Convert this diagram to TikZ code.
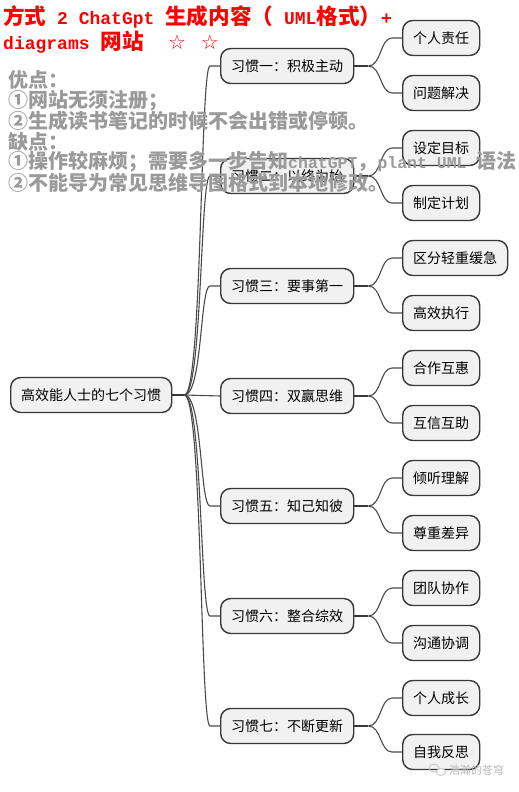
\documentclass[tikz,border=0pt]{standalone}
\usepackage{fontspec}
\newfontfamily\cjk{Noto Sans CJK SC}
\newfontfamily\monob{Liberation Mono}
\newfontfamily\symf{DejaVu Sans}
\usetikzlibrary{calc}
\definecolor{boxfill}{HTML}{F1F1F1}
\definecolor{boxline}{HTML}{383838}
\definecolor{linkcol}{HTML}{4A4A4A}
\definecolor{titlered}{HTML}{FF0000}
\definecolor{notegray}{HTML}{9A9A9A}
\newcommand{\tc}[1]{{\cjk\bfseries\fontsize{21.6}{21.6}\selectfont #1}}
\newcommand{\tm}[1]{{\monob\bfseries\fontsize{18}{18}\selectfont #1}}
\newcommand{\nm}[1]{{\monob\bfseries\fontsize{16.5}{16.5}\selectfont #1}}
\begin{document}
\begin{tikzpicture}[x=1pt,y=-1pt,
  mm/.style={draw=boxline, line width=1.4pt, fill=boxfill, rounded corners=10pt,
    font=\cjk\fontsize{14}{14}\selectfont, inner xsep=10.5pt, inner ysep=0pt,
    minimum height=35pt, anchor=west, text=black},
  stub/.style={draw=boxline, line width=2.2pt},
  link/.style={draw=linkcol, line width=1.1pt},
  titletext/.style={anchor=west, inner sep=0pt, text=titlered},
  notetext/.style={anchor=west, inner sep=0pt, text=notegray,
    font=\cjk\bfseries\fontsize{20}{20}\selectfont},
  wm/.style={anchor=west, inner sep=0pt, text=gray!55, font=\cjk\fontsize{11}{11}\selectfont}]
\useasboundingbox (0,0) rectangle (519,792);
\fill[white] (0,0) rectangle (519,792);

% root
\node[mm] (root) at (10,395) {高效能人士的七个习惯};
% level 1
\node[mm] (h1) at (220,66) {习惯一：积极主动};
\node[mm] (h2) at (220,176) {习惯二：以终为始};
\node[mm] (h3) at (220,286) {习惯三：要事第一};
\node[mm] (h4) at (220,396) {习惯四：双赢思维};
\node[mm] (h5) at (220,506) {习惯五：知己知彼};
\node[mm] (h6) at (220,616) {习惯六：整合综效};
\node[mm] (h7) at (220,726) {习惯七：不断更新};
% level 2
\node[mm] (l11) at (402,38) {个人责任};
\node[mm] (l12) at (402,93) {问题解决};
\node[mm] (l21) at (402,148) {设定目标};
\node[mm] (l22) at (402,203) {制定计划};
\node[mm] (l31) at (402,258) {区分轻重缓急};
\node[mm] (l32) at (402,313) {高效执行};
\node[mm] (l41) at (402,368) {合作互惠};
\node[mm] (l42) at (402,423) {互信互助};
\node[mm] (l51) at (402,478) {倾听理解};
\node[mm] (l52) at (402,533) {尊重差异};
\node[mm] (l61) at (402,588) {团队协作};
\node[mm] (l62) at (402,643) {沟通协调};
\node[mm] (l71) at (402,698) {个人成长};
\node[mm] (l72) at (402,752) {自我反思};

% connectors root -> level 1
\coordinate (rj) at ($(root.east)+(12,0)$);
\foreach \h in {h1,h2,h3,h5,h6,h7}
  \draw[link] (rj) .. controls +(18,0) and +(-10,0) .. ($(\h.west)+(-10,0)$) -- (\h.west);
\draw[link] (rj) -- (h4.west);
\draw[stub] (root.east) -- (rj);

% connectors level 1 -> level 2
\foreach \h/\a/\b in {h1/l11/l12, h2/l21/l22, h3/l31/l32, h4/l41/l42, h5/l51/l52, h6/l61/l62, h7/l71/l72} {
  \coordinate (j\h) at ($(\h.east)+(14,0)$);
  \draw[link] (j\h) .. controls +(13,0) and +(-12,0) .. ($(\a.west)+(-10,0)$) -- (\a.west);
  \draw[link] (j\h) .. controls +(13,0) and +(-12,0) .. ($(\b.west)+(-10,0)$) -- (\b.west);
  \draw[stub] (\h.east) -- (j\h);
}

% title
\node[titletext] (t1) at (3,17) {\tc{方式}\tm{\ 2 ChatGpt\ }\tc{生成内容（}\tm{\ UML}\tc{格式）}\tm{+}};
\node[titletext] (t2) at (3,42) {\tm{diagrams\ }\tc{网站}\tm{\ \ }\hspace{3pt}{\symf\fontsize{20}{20}\selectfont ☆}\tm{\ }\hspace{4pt}{\symf\fontsize{20}{20}\selectfont ☆}};

% notes
\node[notetext] (n1) at (8,80) {优点：};
\node[notetext] (n2) at (8,100.5) {①网站无须注册；};
\node[notetext] (n3) at (8,121) {②生成读书笔记的时候不会出错或停顿。};
\node[notetext] (n4) at (8,141.5) {缺点：};
\node[notetext] (n5) at (8,162) {①操作较麻烦；需要多一步告知\nm{chatGPT}，\nm{plant\ UML\ }语法};
\node[notetext] (n6) at (8,182.5) {②不能导为常见思维导图格式到本地修改。};

% watermark
\draw[gray!45, line width=0.8pt] (434,768) circle[x radius=5pt, y radius=4pt];
\draw[gray!45, line width=0.8pt, fill=white] (441,772) circle[x radius=4.5pt, y radius=3.5pt];
\node[wm] (wmt) at (449,770) {浩瀚的苍穹};
\end{tikzpicture}
\end{document}
